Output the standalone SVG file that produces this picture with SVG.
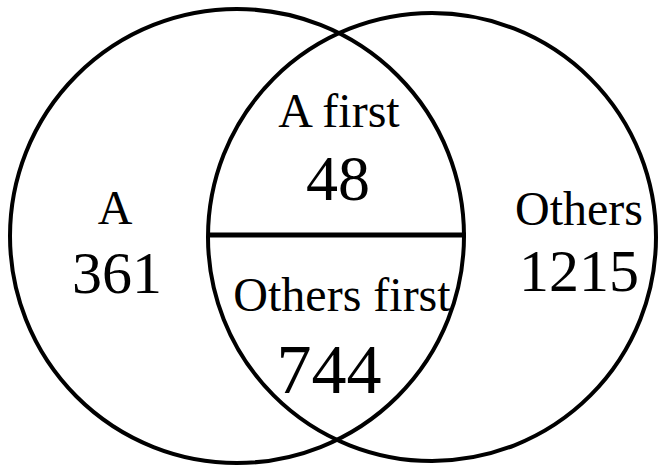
<svg xmlns="http://www.w3.org/2000/svg" width="660" height="472" viewBox="0 0 660 472">
<style>
.c{fill:none;stroke:#000;stroke-width:4}
.l{font-size:48px;text-anchor:middle;fill:#000}
.n{font-size:60px;text-anchor:middle;fill:#000}
</style>
<rect width="660" height="472" fill="#fff"/>
<g font-family="Liberation Serif, Times New Roman, serif">
<g id="setA"><circle class="c" cx="237" cy="236" r="227"/>
<text class="l" x="115" y="224">A</text><text class="n" x="117" y="293">361</text></g>
<g id="setOthers"><circle class="c" cx="432" cy="237" r="224"/>
<text class="l" x="579" y="225">Others</text><text class="n" x="579" y="291">1215</text></g>
<g id="connectors"><line x1="208" y1="235" x2="466" y2="235" stroke="#000" stroke-width="5"/></g>
<g id="afirst"><text class="l" x="339" y="127">A first</text><text class="n" x="338" y="200" style="font-size:64px">48</text></g>
<g id="othersfirst"><text class="l" x="342" y="311">Others first</text><text class="n" x="329" y="393" style="font-size:70px">744</text></g>
</g>
</svg>
